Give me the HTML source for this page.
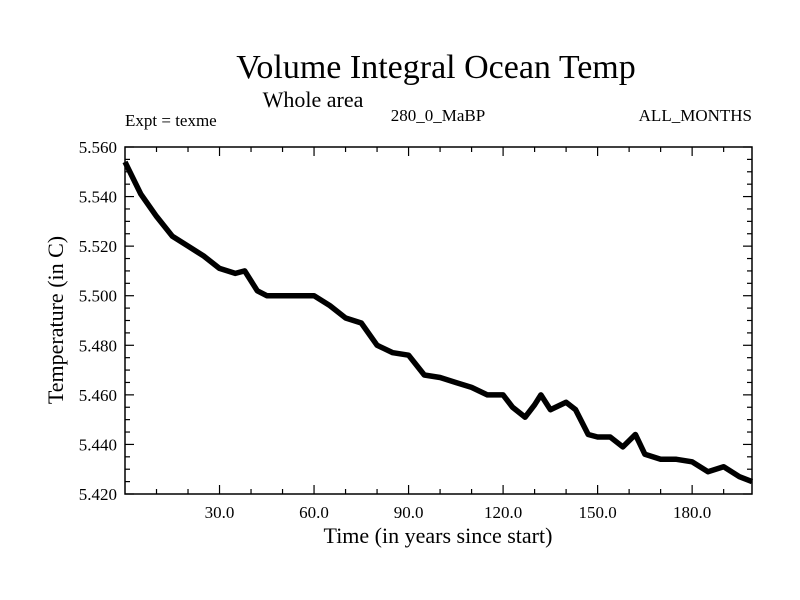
<!DOCTYPE html>
<html><head><meta charset="utf-8"><style>
html,body{margin:0;padding:0;background:#fff;width:800px;height:600px;overflow:hidden}
svg text{font-family:"Liberation Serif",serif;fill:#000}
</style></head><body>
<svg id="chart" width="800" height="600" xmlns="http://www.w3.org/2000/svg">
<text x="436" y="78" font-size="34" text-anchor="middle">Volume Integral Ocean Temp</text>
<text x="313" y="107" font-size="22" text-anchor="middle">Whole area</text>
<text x="125" y="126" font-size="17">Expt = texme</text>
<text x="438" y="121" font-size="17" text-anchor="middle">280_0_MaBP</text>
<text x="752" y="121" font-size="17" text-anchor="end">ALL_MONTHS</text>
<text x="438" y="543" font-size="22" text-anchor="middle">Time (in years since start)</text>
<text transform="translate(63,320) rotate(-90)" font-size="22" text-anchor="middle">Temperature (in C)</text>
<g id="axes"></g>
<g id="series"></g>
<rect x="125" y="147" width="627" height="347" fill="none" stroke="#000" stroke-width="1.5"/>
</svg>
<script>
const years = [0,5,10,15,20,25,30,35,38,42,45,50,55,60,65,70,75,80,85,90,95,100,105,110,115,120,123,127,130,132,135,140,143,147,150,154,158,162,165,170,175,180,185,190,195,199];
const temps = [5.554,5.541,5.532,5.524,5.520,5.516,5.511,5.509,5.510,5.502,5.500,5.500,5.500,5.500,5.496,5.491,5.489,5.480,5.477,5.476,5.468,5.467,5.465,5.463,5.460,5.460,5.455,5.451,5.456,5.460,5.454,5.457,5.454,5.444,5.443,5.443,5.439,5.444,5.436,5.434,5.434,5.433,5.429,5.431,5.427,5.425];
const xTickLabels = ["30.0","60.0","90.0","120.0","150.0","180.0"];
const yTickLabels = ["5.420","5.440","5.460","5.480","5.500","5.520","5.540","5.560"];
const X0=125,X1=752,Y0=147,Y1=494,XMIN=0,XMAX=199,YMIN=5.42,YMAX=5.56;
function xs(v){return X0+(v-XMIN)/(XMAX-XMIN)*(X1-X0);}
function ys(v){return Y1-(v-YMIN)/(YMAX-YMIN)*(Y1-Y0);}
const NS="http://www.w3.org/2000/svg";
const axes=document.getElementById('axes');
function line(x1,y1,x2,y2,name){const l=document.createElementNS(NS,'line');
l.setAttribute('x1',x1);l.setAttribute('y1',y1);l.setAttribute('x2',x2);l.setAttribute('y2',y2);
l.setAttribute('stroke','#000');l.setAttribute('stroke-width','1.2');


axes.appendChild(l);}
for(let v=10;v<XMAX;v+=10){const x=xs(v);const maj=(v%30===0);const len=maj?9:5;
line(x,Y1,x,Y1-len,'x-tick');line(x,Y0,x,Y0+len,'x-tick-top');}
xTickLabels.forEach(s=>{const v=parseFloat(s);const t=document.createElementNS(NS,'text');
t.setAttribute('x',xs(v));t.setAttribute('y',Y1+24);t.setAttribute('font-size','17');t.setAttribute('text-anchor','middle');


t.textContent=s;axes.appendChild(t);});
for(let i=0;i<=28;i++){const v=YMIN+i*0.005;const y=ys(v);const maj=(i%4===0);const len=maj?9:5;
line(X0,y,X0+len,y,'y-tick');line(X1,y,X1-len,y,'y-tick-right');}
yTickLabels.forEach(s=>{const v=parseFloat(s);const t=document.createElementNS(NS,'text');
t.setAttribute('x',X0-8);t.setAttribute('y',ys(v)+6);t.setAttribute('font-size','17');t.setAttribute('text-anchor','end');


t.textContent=s;axes.appendChild(t);});
const p=document.createElementNS(NS,'polyline');
p.setAttribute('points',years.map((y,i)=>xs(y).toFixed(1)+','+ys(temps[i]).toFixed(1)).join(' '));
p.setAttribute('fill','none');p.setAttribute('stroke','#000');p.setAttribute('stroke-width','5.5');p.setAttribute('stroke-linejoin','round');


document.getElementById('series').appendChild(p);
</script>
</body></html>
